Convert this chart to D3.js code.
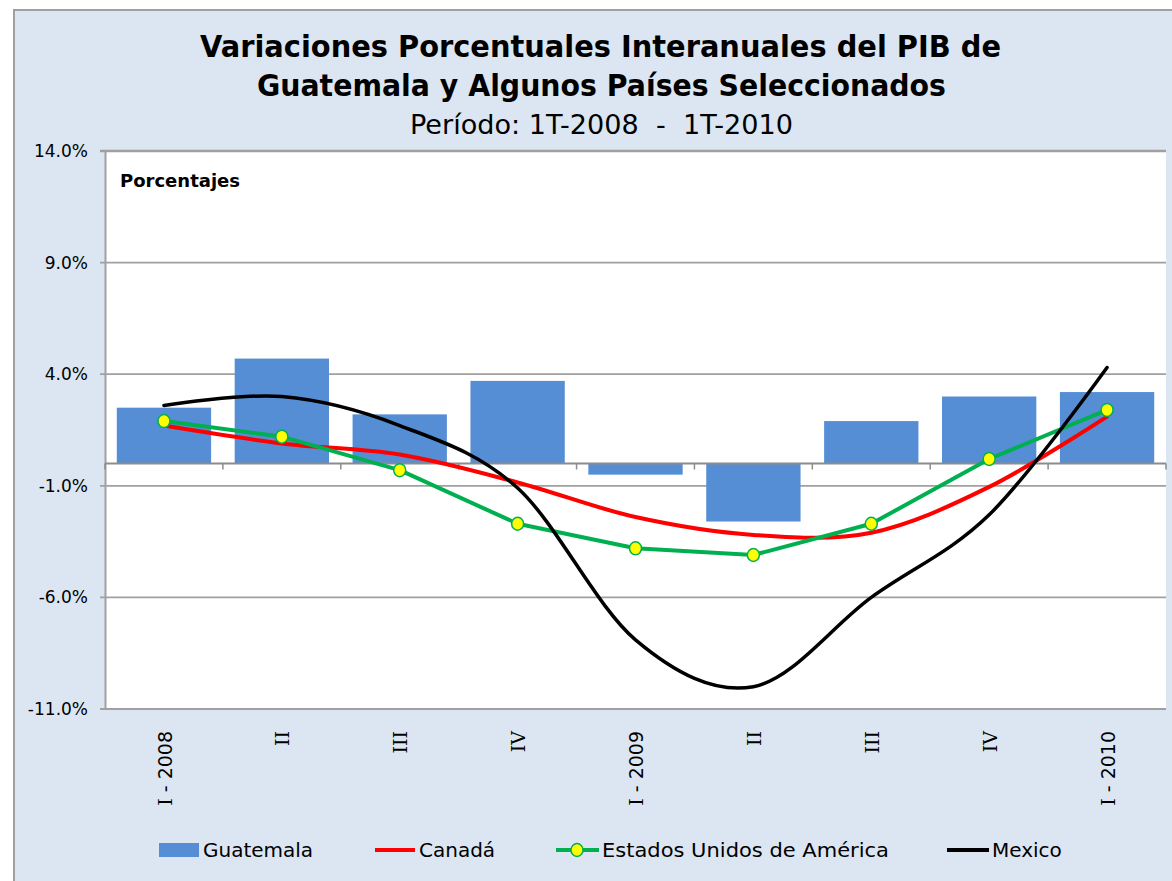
<!DOCTYPE html>
<html lang="es">
<head>
<meta charset="UTF-8">
<title>Variaciones PIB Guatemala</title>
<script src="https://cdn.jsdelivr.net/npm/d3@7"></script>
<style>
  body { margin: 0; background: #fff; }
  text { font-family: "DejaVu Sans", sans-serif; fill: #000; }
</style>
</head>
<body>
<script>
// datos (porcentajes)
const categorias = ["I - 2008", "II", "III", "IV", "I - 2009", "II", "III", "IV", "I - 2010"];
const guatemala = [2.5, 4.7, 2.2, 3.7, -0.5, -2.6, 1.9, 3.0, 3.2];
const canada = [1.7, 0.9, 0.4, -0.85, -2.4, -3.2, -3.1, -1.05, 2.1];
const eua = [1.9, 1.2, -0.3, -2.7, -3.8, -4.1, -2.7, 0.2, 2.4];
const mexico = [2.6, 3.0, 1.7, -1.1, -7.9, -10.0, -6.0, -2.3, 4.3];
const yTicks = [-11, -6, -1, 4, 9, 14];

const w = 1172, h = 881;
const pLeft = 105, pRight = 1166, pTop = 151, pBottom = 709;

const svg = d3.select("body").append("svg").attr("width", w).attr("height", h);

// fondo del grafico
svg.append("rect").attr("x", 14).attr("y", 10).attr("width", 1200).attr("height", 900)
  .attr("fill", "#dce6f2").attr("stroke", "#a0a0a0").attr("stroke-width", 2);

// titulos
svg.append("text").attr("x", 600.5).attr("y", 57).attr("text-anchor", "middle")
  .attr("font-size", 31).attr("font-weight", "bold")
  .attr("textLength", 801).attr("lengthAdjust", "spacingAndGlyphs")
  .text("Variaciones Porcentuales Interanuales del PIB de");
svg.append("text").attr("x", 601.5).attr("y", 96).attr("text-anchor", "middle")
  .attr("font-size", 31).attr("font-weight", "bold")
  .attr("textLength", 689).attr("lengthAdjust", "spacingAndGlyphs")
  .text("Guatemala y Algunos Países Seleccionados");
svg.append("text").attr("x", 601.5).attr("y", 134).attr("text-anchor", "middle")
  .attr("font-size", 27).style("white-space", "pre")
  .attr("textLength", 383).attr("lengthAdjust", "spacingAndGlyphs")
  .text("Período: 1T-2008  -  1T-2010");

// escalas
const x = d3.scaleBand().domain(d3.range(categorias.length)).range([pLeft, pRight])
  .paddingInner(0.2).paddingOuter(0.1);
const xc = i => x(i) + x.bandwidth() / 2;
const y = d3.scaleLinear().domain([-11, 14]).range([pBottom, pTop]);

// area de trazado
svg.append("rect").attr("x", pLeft).attr("y", pTop).attr("width", pRight - pLeft).attr("height", pBottom - pTop)
  .attr("fill", "#fff");

// lineas de division
svg.append("g").selectAll("line").data(yTicks).enter().append("line")
  .attr("x1", pLeft - 5).attr("x2", pRight)
  .attr("y1", d => y(d)).attr("y2", d => y(d))
  .attr("stroke", "#a0a0a0").attr("stroke-width", d => d === 14 ? 2.5 : 1.8);

// eje y
const yAxis = d3.axisLeft(y).tickValues(yTicks).tickSize(0).tickPadding(17)
  .tickFormat(d => d.toFixed(1) + "%");
svg.append("g").attr("transform", "translate(" + pLeft + ",0)").call(yAxis)
  .call(g => g.select(".domain").attr("stroke", "#a0a0a0").attr("stroke-width", 2))
  .call(g => g.selectAll("text").attr("font-size", 17).attr("font-family", "DejaVu Sans").attr("fill", "#000"));

svg.append("text").attr("x", 120).attr("y", 187).attr("font-size", 18).attr("font-weight", "bold")
  .text("Porcentajes");

// barras Guatemala
svg.append("g").selectAll("rect").data(guatemala).enter().append("rect")
  .attr("x", (d, i) => x(i)).attr("width", x.bandwidth())
  .attr("y", d => y(Math.max(0, d)))
  .attr("height", d => Math.abs(y(d) - y(0)))
  .attr("fill", "#558ed5");

// eje de categorias en cero
const bordes = d3.range(categorias.length + 1).map(i => pLeft + i * x.step());
svg.append("line").attr("x1", pLeft).attr("x2", pRight).attr("y1", y(0)).attr("y2", y(0))
  .attr("stroke", "#8c8c8c").attr("stroke-width", 2);
svg.append("g").selectAll("line").data(bordes).enter().append("line")
  .attr("x1", d => d).attr("x2", d => d).attr("y1", y(0)).attr("y2", y(0) + 6)
  .attr("stroke", "#8c8c8c").attr("stroke-width", 1.5);

// etiquetas de categorias (numeral romano con serifas, como Tahoma)
const etiquetas = svg.append("g").selectAll("text").data(categorias).enter().append("text")
  .attr("transform", (d, i) => "translate(" + (xc(i) + 1) + ",731) rotate(-90)")
  .attr("text-anchor", "end").attr("dy", "0.35em").attr("font-size", 19)
  .style("white-space", "pre");
etiquetas.append("tspan").attr("font-family", "DejaVu Serif").text(d => d.split(" ")[0]);
etiquetas.append("tspan").text(d => d.indexOf(" ") > 0 ? d.slice(d.indexOf(" ")) : "");

// lineas
const suave = d3.line().x((d, i) => xc(i)).y(d => y(d)).curve(d3.curveCardinal.tension(0));
const recta = d3.line().x((d, i) => xc(i)).y(d => y(d));

svg.append("path").datum(canada).attr("d", suave)
  .attr("fill", "none").attr("stroke", "#ff0000").attr("stroke-width", 4).attr("stroke-linecap", "round");
svg.append("path").datum(eua).attr("d", recta)
  .attr("fill", "none").attr("stroke", "#00b050").attr("stroke-width", 4).attr("stroke-linejoin", "round");
svg.append("path").datum(mexico).attr("d", suave)
  .attr("fill", "none").attr("stroke", "#000").attr("stroke-width", 3.5).attr("stroke-linecap", "round");
svg.append("g").selectAll("ellipse").data(eua).enter().append("ellipse")
  .attr("cx", (d, i) => xc(i)).attr("cy", d => y(d)).attr("rx", 6).attr("ry", 6.5)
  .attr("fill", "#ffff00").attr("stroke", "#00b050").attr("stroke-width", 1.5);

// leyenda
const ly = 850;
const leyenda = svg.append("g").attr("font-size", 20);
leyenda.append("rect").attr("x", 159).attr("y", ly - 7).attr("width", 40).attr("height", 14).attr("fill", "#558ed5");
leyenda.append("text").attr("x", 203).attr("y", ly).attr("dy", "0.35em").attr("font-size", 20).text("Guatemala");
leyenda.append("line").attr("x1", 375).attr("x2", 415).attr("y1", ly).attr("y2", ly)
  .attr("stroke", "#ff0000").attr("stroke-width", 4);
leyenda.append("text").attr("x", 419).attr("y", ly).attr("dy", "0.35em").attr("font-size", 20).text("Canadá");
leyenda.append("line").attr("x1", 556).attr("x2", 599).attr("y1", ly).attr("y2", ly)
  .attr("stroke", "#00b050").attr("stroke-width", 4);
leyenda.append("ellipse").attr("cx", 577).attr("cy", ly).attr("rx", 6).attr("ry", 6.5)
  .attr("fill", "#ffff00").attr("stroke", "#00b050").attr("stroke-width", 1.5);
leyenda.append("text").attr("x", 602).attr("y", ly).attr("dy", "0.35em").attr("font-size", 20)
  .attr("textLength", 287).attr("lengthAdjust", "spacingAndGlyphs").text("Estados Unidos de América");
leyenda.append("line").attr("x1", 947).attr("x2", 989).attr("y1", ly).attr("y2", ly)
  .attr("stroke", "#000").attr("stroke-width", 4);
leyenda.append("text").attr("x", 992).attr("y", ly).attr("dy", "0.35em").attr("font-size", 20).text("Mexico");
</script>
</body>
</html>
